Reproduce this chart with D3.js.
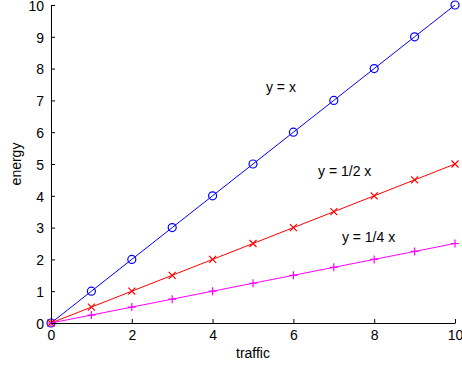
<!DOCTYPE html>
<html><head><meta charset="utf-8">
<script src="https://cdn.jsdelivr.net/npm/d3@7"></script>
<style>body{margin:0;background:#fff}svg{display:block}text{font-family:"Liberation Sans",Arial,sans-serif}</style>
</head><body><svg id="c" width="462" height="366"></svg>
<script>
const xs = [0,1,2,3,4,5,6,7,8,9,10];
const yFull = [0,1,2,3,4,5,6,7,8,9,10];
const yHalf = [0,0.5,1,1.5,2,2.5,3,3.5,4,4.5,5];
const yQuarter = [0,0.25,0.5,0.75,1,1.25,1.5,1.75,2,2.25,2.5];
const xTicks = [0,2,4,6,8,10];
const yTicks = [0,1,2,3,4,5,6,7,8,9,10];
const seriesNames = ["y = x","y = 1/2 x","y = 1/4 x"];
const labelPos = [[5.32,7.26],[6.61,4.62],[7.2,2.55]];

const svg = d3.select("#c");
const x = d3.scaleLinear().domain([0,10]).range([51,455]);
const y = d3.scaleLinear().domain([0,10]).range([323,5]);

const series = [
  {vals:yFull,color:"#0000ff",marker:"o"},
  {vals:yHalf,color:"#ff0000",marker:"x"},
  {vals:yQuarter,color:"#ff00ff",marker:"+"}
];
series.forEach((s,i)=>{
  const g = svg.append("g");
  g.append("path").datum(xs.map((v,j)=>[v,s.vals[j]]))
    .attr("fill","none").attr("stroke",s.color).attr("stroke-width",1)
    .attr("d",d3.line().x(d=>x(d[0])).y(d=>y(d[1])));
  xs.forEach((v,j)=>{
    const cx=x(v), cy=y(s.vals[j]);
    if(s.marker==="o") g.append("circle").attr("cx",cx).attr("cy",cy).attr("r",4).attr("fill","none").attr("stroke",s.color).attr("stroke-width",1.2);
    else if(s.marker==="x") g.append("path").attr("d",`M${cx-3.5},${cy-3.5}L${cx+3.5},${cy+3.5}M${cx-3.5},${cy+3.5}L${cx+3.5},${cy-3.5}`).attr("stroke",s.color).attr("stroke-width",1.2);
    else g.append("path").attr("d",`M${cx-4},${cy}L${cx+4},${cy}M${cx},${cy-4}L${cx},${cy+4}`).attr("stroke",s.color).attr("stroke-width",1.2);
  });
});

const xa = svg.append("g").attr("transform","translate(0,323)")
  .call(d3.axisBottom(x).tickValues(xTicks).tickSizeInner(-4).tickSizeOuter(0).tickPadding(8));
const ya = svg.append("g").attr("transform","translate(51,0)")
  .call(d3.axisLeft(y).tickValues(yTicks).tickSizeInner(-4).tickSizeOuter(0).tickPadding(7));
[xa,ya].forEach(a=>{
  a.selectAll("text").attr("font-size",14).attr("fill","#000").attr("font-family","'Liberation Sans',Arial,sans-serif");
  a.select(".domain").attr("stroke","#000");
  a.selectAll("line").attr("stroke","#000");
});
xa.selectAll("text").attr("dy","0.71em").attr("y",7);
ya.selectAll("text").attr("dy","0.38em");

svg.append("text").attr("x",253).attr("y",358).attr("text-anchor","middle").attr("font-size",14).text("traffic");
svg.append("text").attr("transform","translate(20.5,164) rotate(-90)").attr("text-anchor","middle").attr("font-size",14).text("energy");

seriesNames.forEach((n,i)=>{
  svg.append("text").attr("x",x(labelPos[i][0])).attr("y",y(labelPos[i][1])).attr("font-size",14).text(n);
});
</script></body></html>
